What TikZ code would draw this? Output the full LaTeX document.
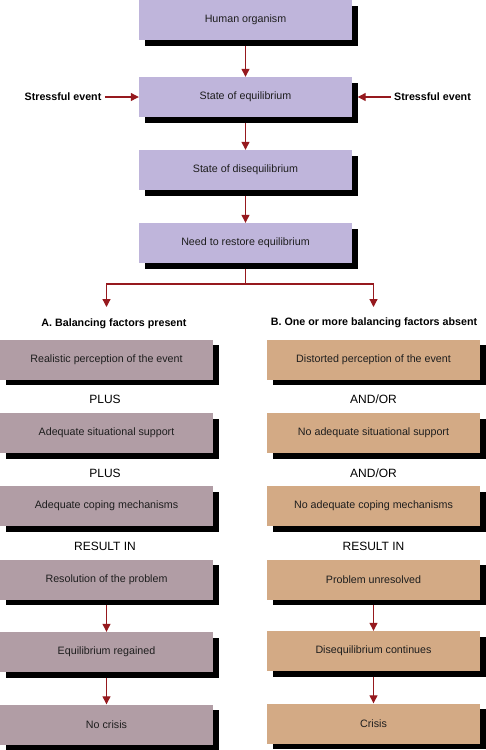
\documentclass[tikz,border=0pt]{standalone}
\usepackage{fontspec}
\setmainfont{Liberation Sans}
\usepackage{tikz}
\usetikzlibrary{arrows, shadows, positioning, calc, arrows.meta}
\definecolor{lavender}{RGB}{191,181,219}
\definecolor{mauve}{RGB}{177,157,165}
\definecolor{boxtan}{RGB}{211,170,133}
\definecolor{arrowred}{RGB}{150,25,30}
\definecolor{textgray}{RGB}{30,30,30}
\tikzset{
  box/.style={rectangle, minimum width=213pt, minimum height=40pt, inner sep=0pt,
    text=textgray, font=\fontsize{10.7}{12}\selectfont,
    drop shadow={shadow xshift=5.5pt, shadow yshift=-5.5pt, fill=black, opacity=1}},
  event/.style={text=black, font=\fontsize{10.7}{12}\selectfont\bfseries},
  joiner/.style={text=black, font=\fontsize{12}{14}\selectfont},
  flow/.style={draw=arrowred, line width=1.2pt, -{Triangle[length=8pt,width=8pt]}},
  down/.style={flow, shorten <=5.5pt}
}

\begin{document}
\begin{tikzpicture}[x=1pt, y=-1pt]
\useasboundingbox (0,0) rectangle (486,750);

% top column
\node[box, fill=lavender] (human) at (245.5,20) {Human organism};
\node[box, fill=lavender] (equil) at (245.5,97) {State of equilibrium};
\node[box, fill=lavender] (disequil) at (245.5,170) {State of disequilibrium};
\node[box, fill=lavender] (restore) at (245.5,243) {Need to restore equilibrium};

\node[event] (stressL) at (63,97) {Stressful event};
\node[event] (stressR) at (432.5,97) {Stressful event};

\draw[down] (human.south) -- (equil.north);
\draw[down] (equil.south) -- (disequil.north);
\draw[down] (disequil.south) -- (restore.north);
\draw[flow] (stressL) -- (equil.west);
\draw[flow] (stressR) -- ([xshift=5.5pt]equil.east);

% split
\coordinate (split) at (245.5,284);
\coordinate (tipA) at (106.5,307);
\coordinate (tipB) at (373.5,307);
\draw[arrowred, line width=1.2pt] ([yshift=-5.5pt]restore.south) -- (split);
\draw[flow] (split) -| (tipA);
\draw[flow] (split) -| (tipB);

\node[event] (headA) at (114,324) {A. Balancing factors present};
\node[event] (headB) at (374,323) {B. One or more balancing factors absent};

% column A
\node[box, fill=mauve] (perceptA) at (106.5,359.5) {Realistic perception of the event};
\node[joiner] (plus1) at (105,399) {PLUS};
\node[box, fill=mauve] (supportA) at (106.5,433) {Adequate situational support};
\node[joiner] (plus2) at (105,473) {PLUS};
\node[box, fill=mauve] (copingA) at (106.5,506) {Adequate coping mechanisms};
\node[joiner] (resultA) at (105,546) {RESULT IN};
\node[box, fill=mauve] (resolveA) at (106.5,579.5) {Resolution of the problem};
\node[box, fill=mauve] (regainA) at (106.5,652) {Equilibrium regained};
\node[box, fill=mauve] (nocrisisA) at (106.5,724.5) {No crisis};

% column B
\node[box, fill=boxtan] (perceptB) at (373.5,359.5) {Distorted perception of the event};
\node[joiner] (andor1) at (373.5,399) {AND/OR};
\node[box, fill=boxtan] (supportB) at (373.5,433) {No adequate situational support};
\node[joiner] (andor2) at (373.5,473) {AND/OR};
\node[box, fill=boxtan] (copingB) at (373.5,506) {No adequate coping mechanisms};
\node[joiner] (resultB) at (373.5,546) {RESULT IN};
\node[box, fill=boxtan] (unresolvedB) at (373.5,579.5) {Problem unresolved};
\node[box, fill=boxtan] (continuesB) at (373.5,651) {Disequilibrium continues};
\node[box, fill=boxtan] (crisisB) at (373.5,723.5) {Crisis};

\foreach \a/\b in {resolveA/regainA, regainA/nocrisisA, unresolvedB/continuesB, continuesB/crisisB}
  \draw[down] (\a.south) -- (\b.north);
\end{tikzpicture}
\end{document}
